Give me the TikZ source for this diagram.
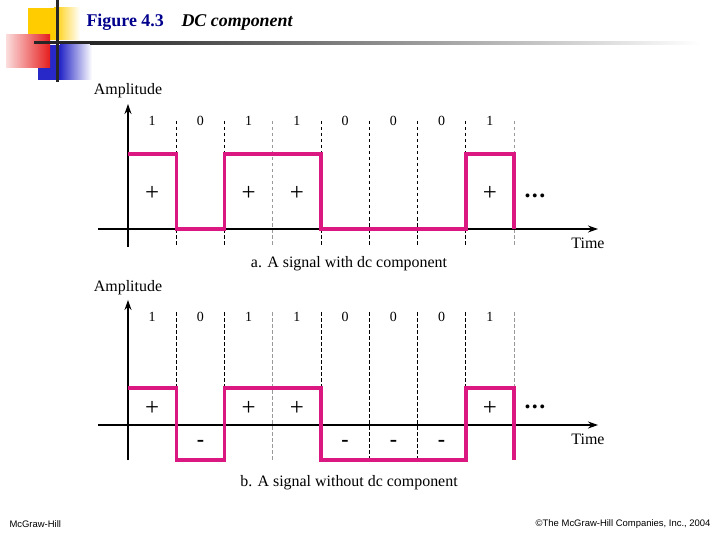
\documentclass[tikz,border=0pt]{standalone}
\usepackage{fontspec}
\setmainfont{Liberation Serif}
\newfontfamily\footfont{Liberation Sans}
\usepackage{xcolor}
\usetikzlibrary{arrows.meta}
\definecolor{sigpink}{RGB}{219,24,130}
\definecolor{titleblue}{RGB}{0,0,140}
\definecolor{decoyellow}{RGB}{255,204,0}
\definecolor{decored}{RGB}{230,30,30}
\definecolor{decoblue}{RGB}{40,40,200}

\begin{document}
\begin{tikzpicture}[
  x=1bp, y=-1bp,
  axis/.style={black, line width=1.2bp},
  axisarrow/.style={axis, -{Stealth[length=10bp,width=7bp]}},
  bitline/.style={black, line width=0.8bp, dash pattern=on 3.5bp off 2.5bp},
  samebit/.style={bitline, black!40},
  signal/.style={sigpink, line width=3.5bp, line join=miter},
  lab/.style={font=\fontsize{16}{18}\selectfont},
  bitlab/.style={font=\fontsize{14}{16}\selectfont},
  plus/.style={font=\fontsize{25}{25}\selectfont},
  minus/.style={font=\bfseries\fontsize{22}{22}\selectfont},
  dots/.style={anchor=base west, font=\bfseries\fontsize{24}{24}\selectfont},
  foot/.style={font=\footfont\fontsize{9.5}{11}\selectfont}
]
\useasboundingbox (0,0) rectangle (720,540);
% title decoration
\fill[decoyellow] (28,8) rectangle (54,40);
\shade[left color=decoyellow, right color=white] (54,8) rectangle (80,40);
\fill[decoblue] (38,45) rectangle (60,80);
\shade[left color=decoblue, right color=white] (60,45) rectangle (92,80);
\shade[left color=decored!15, right color=decored] (6,35) rectangle (50,68);
\fill[black!85] (34,41.5) rectangle (90,44.5);
\shade[left color=black!85, right color=white] (90,41.5) rectangle (700,44.5);
\fill[black!85] (55.5,0) rectangle (58.5,82);
\node[anchor=west, font=\bfseries\fontsize{18}{20}\selectfont, text=titleblue] (fig) at (83,22) {Figure 4.3};
\node[anchor=west, font=\bfseries\itshape\fontsize{18}{20}\selectfont] (title) at (178,22) {DC component};

% a. signal with dc component
\foreach \i in {1,...,8} {
  \ifnum\i=3 \def\bst{samebit}\else\ifnum\i=8 \def\bst{samebit}\else\def\bst{bitline}\fi\fi
  \draw[\bst] (128+48.25*\i,121) -- (128+48.25*\i,247);
}
\foreach \b [count=\i] in {1,0,1,1,0,0,0,1}
  \node[bitlab] (bitA\i) at (128+48.25*\i-24.125,121) {\b};
\coordinate (originA) at (128,229);
\draw[axisarrow] (128,247) -- (128,104);
\draw[axisarrow] (98,229) -- (598,229);
\node[lab] (ampA) at (128,91) {Amplitude};
\node[lab] (timeA) at (588,243) {Time};
\draw[signal] (128,154) -- (176.25,154) -- (176.25,229) -- (224.5,229) -- (224.5,154)
  -- (321,154) -- (321,229) -- (465.75,229) -- (465.75,154) -- (514,154) -- (514,229);
\foreach \x [count=\i] in {152.1,248.6,296.9,489.9}
  \node[plus] (plusA\i) at (\x,193) {+};
\node[dots] (dotsA) at (521,198) {.\kern1.5bp.\kern1.5bp.};
\node[lab] (capA) at (349,264) {a. A signal with dc component};

% b. signal without dc component
\foreach \i in {1,...,8} {
  \ifnum\i=3 \def\bst{samebit}\else\ifnum\i=8 \def\bst{samebit}\else\def\bst{bitline}\fi\fi
  \draw[\bst] (128+48.25*\i,312) -- (128+48.25*\i,460);
}
\foreach \b [count=\i] in {1,0,1,1,0,0,0,1}
  \node[bitlab] (bitB\i) at (128+48.25*\i-24.125,317) {\b};
\coordinate (originB) at (128,425);
\draw[axisarrow] (128,460) -- (128,300);
\draw[axisarrow] (98,425) -- (598,425);
\node[lab] (ampB) at (128,288) {Amplitude};
\node[lab] (timeB) at (588,439) {Time};
\draw[signal] (128,388) -- (176.25,388) -- (176.25,460) -- (224.5,460) -- (224.5,388)
  -- (321,388) -- (321,460) -- (465.75,460) -- (465.75,388) -- (514,388) -- (514,460);
\foreach \x [count=\i] in {152.1,248.6,296.9,489.9}
  \node[plus] (plusB\i) at (\x,408) {+};
\foreach \x [count=\i] in {200.4,345.1,393.4,441.6}
  \node[minus] (minusB\i) at (\x,443) {-};
\node[dots] (dotsB) at (521,408) {.\kern1.5bp.\kern1.5bp.};
\node[lab] (capB) at (349,483) {b. A signal without dc component};

% footer
\node[foot, anchor=west] (pub) at (6,524) {McGraw-Hill};
\node[foot, anchor=east] (copy) at (714,524) {\textcopyright The McGraw-Hill Companies, Inc., 2004};
\end{tikzpicture}
\end{document}
